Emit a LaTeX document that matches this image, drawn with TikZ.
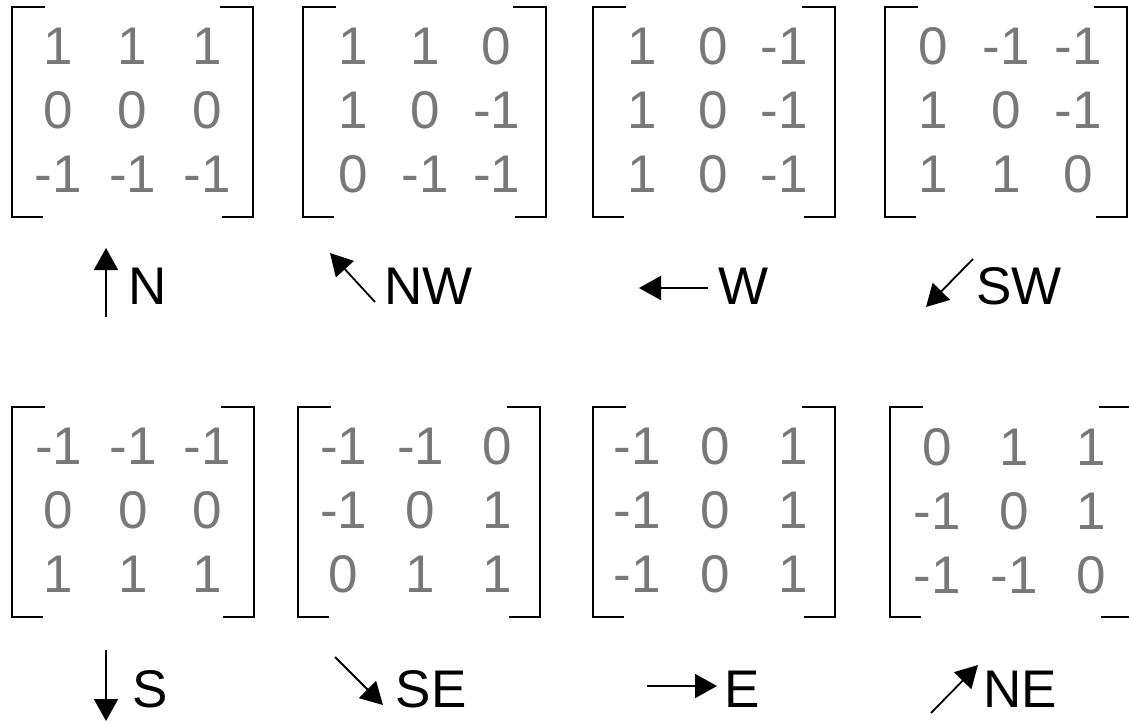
\documentclass[tikz,border=0pt]{standalone}
\usepackage{fontspec}
\setmainfont{Liberation Sans}
\usetikzlibrary{arrows.meta,matrix}
\definecolor{numgray}{RGB}{120,120,120}
\newcommand\kbrk[4]{%
  \draw[brk] (#1+33,#3) -| (#1,#4) -- (#1+31,#4);
  \draw[brk] (#2-33,#3) -| (#2,#4) -- (#2-31,#4);}
\begin{document}
\begin{tikzpicture}[x=1pt,y=-1pt,
  brk/.style={line width=2pt},
  num/.style={text=numgray, font=\fontsize{53}{60}\selectfont, inner sep=0pt,
              minimum height=64pt, anchor=center},
  kernel/.style={matrix of nodes, inner sep=0pt, row sep=0pt, column sep=0pt,
                 nodes={num, minimum width=#1}},
  lbl/.style={font=\fontsize{53}{60}\selectfont, inner sep=0pt, anchor=base west},
  dirarrow/.style={line width=1.8pt, -{Triangle[width=24pt,length=22pt]}}
]
\path[use as bounding box, clip] (0,0) rectangle (1129,723);

% ---- top row matrices ----
\matrix (mN) [kernel=74.6pt] at (132.6,110) {
  1 & 1 & 1 \\ 0 & 0 & 0 \\ -1 & -1 & -1 \\ };
\matrix (mNW) [kernel=71.7pt] at (425,110) {
  1 & 1 & 0 \\ 1 & 0 & -1 \\ 0 & -1 & -1 \\ };
\matrix (mW) [kernel=71pt] at (713,110) {
  1 & 0 & -1 \\ 1 & 0 & -1 \\ 1 & 0 & -1 \\ };
\matrix (mSW) [kernel=72.3pt] at (1006,110) {
  0 & -1 & -1 \\ 1 & 0 & -1 \\ 1 & 1 & 0 \\ };

% ---- bottom row matrices ----
\matrix (mS) [kernel=74.4pt] at (133,510) {
  -1 & -1 & -1 \\ 0 & 0 & 0 \\ 1 & 1 & 1 \\ };
\matrix (mSE) [kernel=77pt] at (420.7,510) {
  -1 & -1 & 0 \\ -1 & 0 & 1 \\ 0 & 1 & 1 \\ };
\matrix (mE) [kernel=78pt] at (715,510) {
  -1 & 0 & 1 \\ -1 & 0 & 1 \\ -1 & 0 & 1 \\ };
\matrix (mNE) [kernel=77pt] at (1014,511) {
  0 & 1 & 1 \\ -1 & 0 & 1 \\ -1 & -1 & 0 \\ };

% ---- brackets ----
\kbrk{12}{253}{7}{217}
\kbrk{303}{546}{7}{217}
\kbrk{593}{835}{7}{217}
\kbrk{885}{1127}{7}{217}
\kbrk{12}{254}{407}{617}
\kbrk{298}{540}{407}{617}
\kbrk{593}{835}{407}{617}
\kbrk{890}{1132}{407}{617}

% ---- labels ----
\node[lbl] (lN)  at (128,304) {N};
\node[lbl] (lNW) at (384,304) {NW};
\node[lbl] (lW)  at (718,304) {W};
\node[lbl] (lSW) at (976,304) {SW};
\node[lbl] (lS)  at (132.5,707) {S};
\node[lbl] (lSE) at (395.5,707) {SE};
\node[lbl] (lE)  at (724,707) {E};
\node[lbl] (lNE) at (983,707) {NE};

% ---- direction arrows ----
\coordinate (aNt) at (106,317);  \coordinate (aNh) at (106,248);
\coordinate (aNWt) at (375,302); \coordinate (aNWh) at (330,253);
\coordinate (aWt) at (708,288);  \coordinate (aWh) at (639,288);
\coordinate (aSWt) at (973,259); \coordinate (aSWh) at (926,307);
\coordinate (aSt) at (106,650);  \coordinate (aSh) at (106,721);
\coordinate (aSEt) at (335,657); \coordinate (aSEh) at (383,705);
\coordinate (aEt) at (647,686);  \coordinate (aEh) at (717,686);
\coordinate (aNEt) at (931,713); \coordinate (aNEh) at (978,665);

\draw[dirarrow] (aNt) -- (aNh);
\draw[dirarrow] (aNWt) -- (aNWh);
\draw[dirarrow] (aWt) -- (aWh);
\draw[dirarrow] (aSWt) -- (aSWh);
\draw[dirarrow] (aSt) -- (aSh);
\draw[dirarrow] (aSEt) -- (aSEh);
\draw[dirarrow] (aEt) -- (aEh);
\draw[dirarrow] (aNEt) -- (aNEh);
\end{tikzpicture}
\end{document}
